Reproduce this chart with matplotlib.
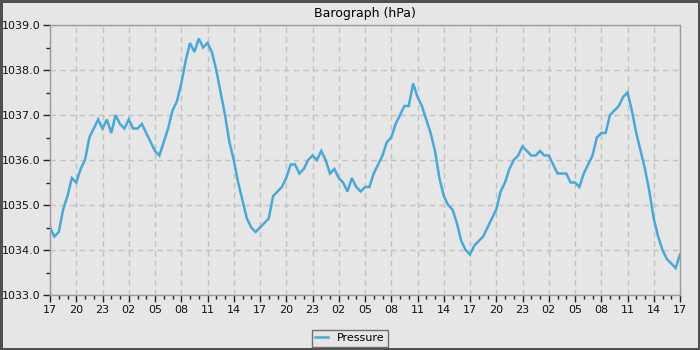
import numpy as np
import matplotlib
matplotlib.use("Agg")
import matplotlib.pyplot as plt
from matplotlib.ticker import MultipleLocator, FuncFormatter

# half-hourly readings, starting 17:00, three days
startHour = 17
stepHours = 0.5
pressure = [
    1034.5, 1034.3, 1034.4, 1034.9, 1035.2, 1035.6, 1035.5, 1035.8, 1036.0, 1036.5,
    1036.7, 1036.9, 1036.7, 1036.9, 1036.6, 1037.0, 1036.8, 1036.7, 1036.9, 1036.7,
    1036.7, 1036.8, 1036.6, 1036.4, 1036.2, 1036.1, 1036.4, 1036.7, 1037.1, 1037.3,
    1037.7, 1038.2, 1038.6, 1038.4, 1038.7, 1038.5, 1038.6, 1038.4, 1038.0, 1037.5,
    1037.0, 1036.4, 1036.0, 1035.5, 1035.1, 1034.7, 1034.5, 1034.4, 1034.5, 1034.6,
    1034.7, 1035.2, 1035.3, 1035.4, 1035.6, 1035.9, 1035.9, 1035.7, 1035.8, 1036.0,
    1036.1, 1036.0, 1036.2, 1036.0, 1035.7, 1035.8, 1035.6, 1035.5, 1035.3, 1035.6,
    1035.4, 1035.3, 1035.4, 1035.4, 1035.7, 1035.9, 1036.1, 1036.4, 1036.5, 1036.8,
    1037.0, 1037.2, 1037.2, 1037.7, 1037.4, 1037.2, 1036.9, 1036.6, 1036.2, 1035.6,
    1035.2, 1035.0, 1034.9, 1034.6, 1034.2, 1034.0, 1033.9, 1034.1, 1034.2, 1034.3,
    1034.5, 1034.7, 1034.9, 1035.3, 1035.5, 1035.8, 1036.0, 1036.1, 1036.3, 1036.2,
    1036.1, 1036.1, 1036.2, 1036.1, 1036.1, 1035.9, 1035.7, 1035.7, 1035.7, 1035.5,
    1035.5, 1035.4, 1035.7, 1035.9, 1036.1, 1036.5, 1036.6, 1036.6, 1037.0, 1037.1,
    1037.2, 1037.4, 1037.5, 1037.1, 1036.6, 1036.2, 1035.8, 1035.3, 1034.7, 1034.3,
    1034.0, 1033.8, 1033.7, 1033.6, 1033.9,
]

bg = "#e6e6e6"
lineColor = "#4aa8d8"
axisColor = "#9a9a9a"

hours = np.arange(len(pressure)) * stepHours

fig = plt.figure(figsize=(7, 3.5), dpi=100, facecolor=bg,
                 edgecolor="#505050", linewidth=2.5)
ax = fig.add_axes([50 / 700, 1 - 295 / 350, 630 / 700, 270 / 350])
ax.set_facecolor(bg)

ax.plot(hours, pressure, color=lineColor, linewidth=1.8, label="Pressure",
        solid_joinstyle="miter")

ax.set_xlim(0, 72)
ax.set_ylim(1033.0, 1039.0)

ax.xaxis.set_major_locator(MultipleLocator(3))
ax.xaxis.set_minor_locator(MultipleLocator(1))
ax.xaxis.set_major_formatter(
    FuncFormatter(lambda v, pos: "%02d" % ((startHour + int(round(v))) % 24)))
ax.yaxis.set_major_locator(MultipleLocator(1))
ax.yaxis.set_minor_locator(MultipleLocator(0.5))
ax.yaxis.set_major_formatter(FuncFormatter(lambda v, pos: "%.1f" % v))

ax.tick_params(which="major", length=5, width=1, color="#222222",
               labelsize=8, pad=2, labelcolor="#111111")
ax.tick_params(which="minor", length=3, width=1, color="#222222")

for s in ax.spines.values():
    s.set_color(axisColor)
    s.set_linewidth(1)

ax.grid(True, which="major", color="#c2c2c2", linestyle=(0, (4, 3)), linewidth=1)
ax.set_axisbelow(True)

ax.set_title("Barograph (hPa)", fontsize=9, pad=6)

leg = fig.legend(loc="lower center", bbox_to_anchor=(0.5, 0.0), ncol=1,
                 fontsize=8, frameon=True, fancybox=False, handlelength=1.2,
                 borderpad=0.3, handletextpad=0.8, borderaxespad=0.3)
leg.get_frame().set_facecolor(bg)
leg.get_frame().set_edgecolor("#707070")
leg.get_frame().set_alpha(1)

fig.savefig("out.png", dpi=100, facecolor=bg, edgecolor=fig.get_edgecolor())
